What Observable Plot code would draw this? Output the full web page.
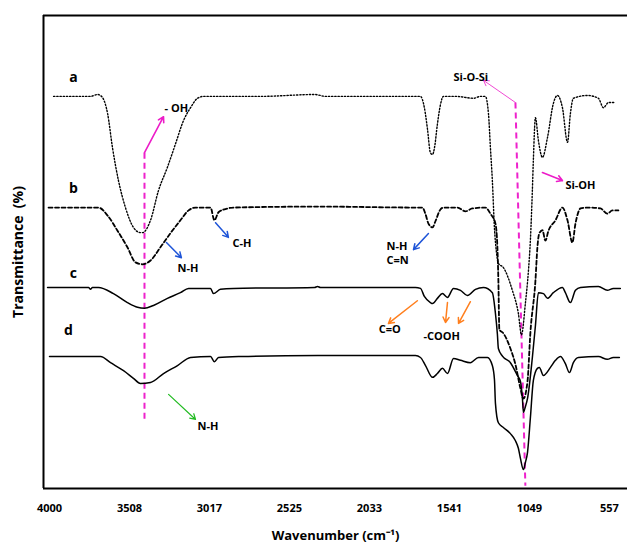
<!DOCTYPE html>
<html><head><meta charset="utf-8">
<script src="https://cdn.jsdelivr.net/npm/d3@7"></script>
<script src="https://cdn.jsdelivr.net/npm/@observablehq/plot@0.6"></script>
<style>body{margin:0;background:#fff}</style>
</head><body><div id="chart"></div>
<script>
// FTIR spectra: [wavenumber (cm-1), transmittance (arb. %, offset per curve)]
const spectrumA = [[3975,82.9],[3748,82.9],[3705,83.3],[3680,82.9],[3643,79.3],[3613,72.1],[3576,65.1],[3533,59.4],[3484,55.2],[3441,54.1],[3428,54.1],[3379,56.7],[3330,63.0],[3275,67.9],[3225,72.9],[3176,77.8],[3133,80.5],[3090,82.5],[3053,82.9],[2700,82.9],[2370,83.3],[2300,82.9],[1750,82.9],[1719,82.9],[1695,80.5],[1676,76.0],[1658,71.0],[1645,70.6],[1633,72.0],[1615,77.0],[1597,81.0],[1578,82.9],[1500,82.9],[1393,82.5],[1350,82.9],[1320,82.9],[1301,79.3],[1289,72.1],[1277,65.1],[1264,55.0],[1252,50.0],[1240,47.6],[1209,46.7],[1154,41.9],[1117,37.0],[1098,32.5],[1074,39.1],[1055,46.1],[1043,52.6],[1031,63.0],[1025,69.3],[1012,78.4],[994,73.6],[969,70.0],[938,74.2],[902,81.4],[877,83.1],[846,80.5],[815,73.2],[797,79.3],[779,82.5],[692,83.1],[625,82.5],[594,80.5],[563,81.6],[520,81.6]];
const spectrumB = [[4006,59.4],[3699,59.4],[3643,57.7],[3582,54.5],[3521,51.0],[3471,47.8],[3428,47.4],[3379,48.2],[3318,51.0],[3256,54.0],[3195,56.7],[3145,58.8],[3102,59.4],[3010,59.4],[2986,56.7],[2961,58.4],[2906,59.2],[2869,59.4],[2334,59.6],[1750,59.4],[1707,59.4],[1688,58.0],[1670,56.0],[1645,55.2],[1627,56.5],[1600,58.8],[1578,59.4],[1492,59.4],[1442,58.6],[1400,59.2],[1320,59.4],[1289,58.1],[1258,56.0],[1246,51.0],[1240,44.0],[1234,33.6],[1209,32.8],[1166,29.6],[1135,26.2],[1104,21.1],[1086,19.0],[1061,22.6],[1043,33.0],[1012,44.0],[1000,51.0],[988,54.0],[969,54.6],[951,52.4],[932,54.5],[889,56.7],[846,59.4],[815,56.7],[785,52.0],[766,56.0],[735,59.2],[692,59.4],[612,59.2],[570,58.1],[539,58.8],[502,58.8]];
const spectrumC = [[4012,42.5],[3760,42.5],[3748,42.1],[3736,42.5],[3699,42.5],[3607,41.2],[3521,39.3],[3459,38.3],[3416,38.1],[3361,38.7],[3275,40.2],[3195,41.4],[3145,42.3],[3010,42.3],[2992,41.2],[2949,42.1],[2869,42.3],[2370,42.5],[2352,42.7],[2334,42.5],[1750,42.5],[1719,42.3],[1695,40.6],[1658,39.3],[1645,39.1],[1615,40.2],[1584,41.2],[1553,40.4],[1516,42.3],[1473,41.9],[1430,40.8],[1381,42.1],[1332,42.5],[1277,41.4],[1258,37.0],[1246,32.6],[1240,29.6],[1215,28.0],[1166,26.6],[1123,23.9],[1104,22.6],[1092,19.0],[1086,16.1],[1074,17.3],[1061,19.0],[1031,27.7],[1012,34.5],[994,41.4],[963,41.2],[938,40.2],[902,41.4],[846,42.5],[828,41.4],[797,39.3],[766,41.9],[735,42.5],[625,42.7],[570,41.9],[533,42.3],[490,42.3]];
const spectrumD = [[4000,27.9],[3748,27.9],[3686,27.9],[3625,26.6],[3545,24.9],[3484,23.3],[3441,22.2],[3379,22.4],[3299,24.3],[3213,26.0],[3133,27.7],[3010,27.9],[2986,26.8],[2961,27.7],[2826,27.9],[2352,28.1],[1750,28.1],[1719,27.7],[1688,26.0],[1645,23.5],[1615,24.3],[1584,25.4],[1553,24.3],[1516,27.5],[1473,27.1],[1412,26.6],[1362,27.7],[1307,27.7],[1277,26.0],[1264,23.0],[1258,18.0],[1240,13.9],[1209,12.9],[1166,11.6],[1135,10.1],[1117,8.5],[1104,6.3],[1086,4.0],[1074,5.5],[1061,7.6],[1043,15.0],[1025,22.8],[1000,25.4],[988,25.6],[963,23.9],[920,25.6],[889,27.1],[858,27.9],[828,26.4],[803,24.5],[779,26.6],[748,27.7],[625,27.9],[570,27.3],[533,27.7],[496,27.7]];

const xTicks = [4000, 3508, 3017, 2525, 2033, 1541, 1049, 557];
const curveLabels = [["a",3853,86.9],["b",3853,63.4],["c",3853,45.5],["d",3883,33.4]];

// annotations: [text, x, y, color]
const annoTexts = [["- OH",3293,80.3,"black"],["Si-O-Si",1516,86.9,"black"],["Si-OH",828,64.1,"black"],["N-H",3213,46.5,"black"],["C-H",2875,51.8,"black"],["N-H",1928,51.2,"black"],["C=N",1928,48.2,"black"],["C=O",1976,33.6,"black"],["-COOH",1701,32.1,"black"],["N-H",3090,13.1,"black"]];
// arrows: [x1,y1,x2,y2,color,width]
const annoArrows = [[3416,71.0,3299,78.6,"#ec1cc8",1.6],[1135,81.6,1332,86.3,"#ec1cc8",0.8],[969,66.8,846,65.1,"#ec1cc8",1.6],[3281,52.0,3189,48.8,"#1f55d8",1.5],[2979,56.2,2900,53.1,"#1f55d8",1.5],[1670,53.9,1762,50.5,"#1f55d8",1.5],[1738,39.7,1916,34.9,"#ff7f1e",1.5],[1553,39.3,1565,35.1,"#ff7f1e",1.5],[1412,39.5,1485,34.9,"#ff7f1e",1.5],[3268,19.9,3102,14.6,"#22bb22",1.2]];
// vertical guide lines: [x1,y1,x2,y2]
const guides = [[3416,71.0,3416,14.4],[1135,81.6,1074,0.6]];

const toRows = (arr) => arr.map(([x, y]) => ({x, y}));

const plot = Plot.plot({
  width: 627, height: 543,
  marginLeft: 43, marginRight: 0, marginTop: 15, marginBottom: 55,
  x: {domain: [4037, 446], range: [43, 627]},
  y: {domain: [0, 100], axis: null},
  style: {fontFamily: "'Open Sans', sans-serif", fontWeight: "bold", background: "white"},
  marks: [
    Plot.axisX({ticks: xTicks, tickSize: 0, tickPadding: 16, tickFormat: d => String(d), fontSize: 11, fill: "black", label: null}),
    Plot.ruleX([4037], {stroke: "black", strokeWidth: 2}),
    Plot.ruleY([0, 100], {stroke: "black", strokeWidth: 2}),
    Plot.link(guides, {x1: d => d[0], y1: d => d[1], x2: d => d[2], y2: d => d[3], stroke: "#ee22cc", strokeWidth: 2, strokeDasharray: "6,4"}),
    Plot.line(toRows(spectrumA), {x: "x", y: "y", curve: "monotone-x", stroke: "black", strokeWidth: 1.4, strokeDasharray: "1.3,1.9"}),
    Plot.line(toRows(spectrumB), {x: "x", y: "y", curve: "monotone-x", stroke: "black", strokeWidth: 1.8, strokeDasharray: "4,2.5"}),
    Plot.line(toRows(spectrumC), {x: "x", y: "y", curve: "monotone-x", stroke: "black", strokeWidth: 1.5}),
    Plot.line(toRows(spectrumD), {x: "x", y: "y", curve: "monotone-x", stroke: "black", strokeWidth: 1.5}),
    Plot.arrow(annoArrows, {x1: d => d[0], y1: d => d[1], x2: d => d[2], y2: d => d[3], stroke: d => d[4], strokeWidth: d => d[5], headLength: 9, bend: 0}),
    Plot.text(annoTexts, {x: d => d[1], y: d => d[2], text: d => d[0], fill: d => d[3], textAnchor: "start", fontSize: 11, fontWeight: "bold"}),
    Plot.text(curveLabels, {x: d => d[1], y: d => d[2], text: d => d[0], fontSize: 14, fontWeight: "bold", fill: "black"}),
    Plot.text(["Transmittance  (%)"], {frameAnchor: "left", dx: -25, rotate: -90, textAnchor: "middle", lineAnchor: "middle", fontSize: 14, fontWeight: "bold", fill: "black"}),
    Plot.text(["Wavenumber (cm⁻¹)"], {frameAnchor: "bottom", dy: 47, lineAnchor: "middle", fontSize: 13, fontWeight: "bold", fill: "black"})
  ]
});
document.getElementById("chart").appendChild(plot);
</script>
</body></html>
